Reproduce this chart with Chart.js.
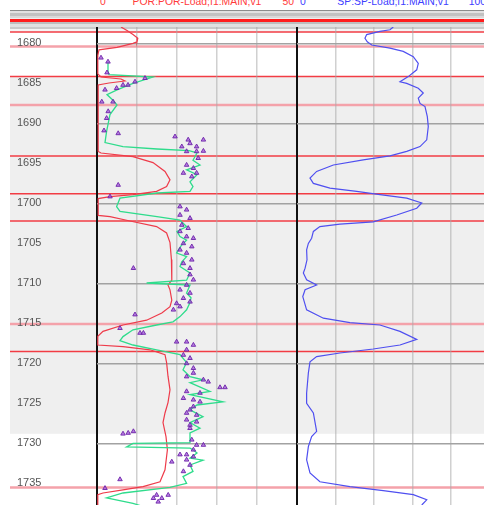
<!DOCTYPE html>
<html>
<head>
<meta charset="utf-8">
<title>POR / SP log</title>
<script src="https://cdn.jsdelivr.net/npm/chart.js@4.4.1/dist/chart.umd.min.js"></script>
<style>
  html, body { margin: 0; padding: 0; background: #fff; overflow: hidden; width: 484px; height: 505px; }
  canvas { display: block; position: absolute; }
  #band {
    position: absolute; left: 10px; top: 10px; width: 474px; height: 22px;
    background: linear-gradient(to bottom,
      #8c8c8c 0px, #8c8c8c 1px, #e2e2e2 1px, #e2e2e2 3px, #c2c2c2 3px, #c2c2c2 6px,
      #d9d9d9 6px, #d9d9d9 8px, #eeeeee 8px, #eeeeee 9px, #ff1c1c 9px, #ff1c1c 12px,
      #bdbdbd 12px, #bdbdbd 14px, #e0e0e0 14px, #e0e0e0 17px, #c9c9c9 17px, #c9c9c9 19px,
      #f4f4f4 19px, #f4f4f4 22px);
  }
  .hd { position: absolute; top: -4px; font: 10.4px "Liberation Sans", Arial, sans-serif; line-height: 12px; white-space: nowrap; }
</style>
</head>
<body>
<div id="band"></div>
<div id="head"></div>
<canvas id="depthTrack" width="474" height="480" style="left:10px;top:27px"></canvas>
<canvas id="porTrack" width="210" height="480" style="left:92px;top:27px"></canvas>
<canvas id="spTrack" width="203" height="480" style="left:292px;top:27px"></canvas>
<script>
// ---- depth frame ----
const depthRange = [1677.95, 1737.95];
const depthLabels = [1680, 1685, 1690, 1695, 1700, 1705, 1710, 1715, 1720, 1725, 1730, 1735];
const gridDepths = [1680, 1690, 1700, 1710, 1720, 1730];
const shadedZone = [1684.15, 1728.8];
const strongTops = [1678.56, 1684.15, 1694.06, 1698.8, 1702.2, 1718.5];
const faintTops = [1680.4, 1687.7, 1715.06, 1735.5];

// ---- track scales ----
const porRange = [0, 50];
const porTicks = [0, 10, 20, 30, 40, 50];
const spRange = [0, 100];
const spTicks = [0, 20, 40, 60, 80, 100];
const porName = 'POR:POR-Load;f1:MAIN;v1';
const spName = 'SP:SP-Load;f1:MAIN;v1';

// ---- POR curve (red) ----
const porDepth = [1677.95, 1678.4, 1678.9, 1679.35, 1679.8, 1680.0, 1680.5, 1680.8, 1681.5, 1683.8,
  1684.2, 1684.45, 1684.7, 1684.95, 1685.2, 1693.5, 1693.7, 1694.15, 1694.9, 1696.0, 1697.06, 1697.9,
  1698.5, 1698.9, 1699.15, 1699.4, 1701.5, 1701.65, 1702.2, 1702.9, 1703.7, 1704.9, 1707.0, 1709.6,
  1710.2, 1710.8, 1712.1, 1712.9, 1713.7, 1714.6, 1715.2, 1716.0, 1716.6, 1717.7, 1717.9, 1718.3,
  1718.9, 1719.9, 1721.6, 1723.3, 1724.9, 1726.2, 1727.4, 1729.15, 1730.8, 1733.3, 1734.8, 1735.4,
  1735.8, 1736.2, 1736.4, 1737.95];
const porValue = [6.0, 7.5, 9.0, 10.2, 10.0, 9.0, 5.0, 0.5, 0.2, 0.2,
  1.0, 6.0, 7.0, 3.0, 0.3, 0.3, 1.0, 9.0, 14.0, 17.0, 18.25, 17.4,
  14.9, 9.0, 3.25, 0.3, 0.3, 3.25, 8.25, 14.9, 17.4, 18.25, 18.6, 18.7,
  17.75, 18.25, 18.7, 18.25, 16.2, 12.4, 6.5, 1.5, 0.2, 0.2, 6.5, 13.25,
  17.0, 17.4, 17.75, 18.25, 17.75, 17.0, 16.5, 17.25, 17.6, 17.0, 15.75, 11.5,
  6.5, 1.5, 0.2, 0.2];

// ---- second porosity curve (green) ----
const phiDepth = [1682.3, 1683.5, 1683.9, 1684.2, 1685.0, 1685.8, 1686.4, 1687.1, 1687.7, 1688.9,
  1691.0, 1692.4, 1692.9, 1693.2, 1693.4, 1693.7, 1694.6, 1695.2, 1695.8, 1696.4, 1697.3, 1697.9,
  1698.5, 1698.7, 1699.35, 1700.4, 1701.0, 1701.65, 1702.1, 1702.9, 1703.5, 1704.15, 1704.6, 1705.3,
  1706.2, 1706.65, 1707.3, 1707.9, 1708.7, 1709.6, 1709.95, 1710.2, 1711.2, 1711.8, 1712.4, 1713.3,
  1714.15, 1714.8, 1715.2, 1715.8, 1716.65, 1717.15, 1717.7, 1718.3, 1718.9, 1719.9, 1720.8, 1721.65,
  1722.05, 1722.4, 1723.5, 1723.9, 1724.8, 1725.2, 1725.8, 1726.65, 1727.4, 1728.1, 1728.7, 1729.6,
  1729.9, 1730.0, 1730.45, 1730.6, 1730.8, 1731.2, 1731.85, 1732.1, 1732.7, 1733.5, 1734.15, 1735.0,
  1735.5, 1736.2, 1736.8, 1737.5, 1737.95];
const phiValue = [2.75, 2.75, 3.0, 14.0, 9.0, 5.0, 2.5, 4.0, 5.0, 3.25,
  2.4, 2.0, 6.5, 15.0, 23.0, 25.0, 24.0, 25.75, 22.4, 25.0, 23.25, 24.0,
  23.25, 15.0, 5.75, 4.9, 5.75, 15.0, 20.75, 22.4, 20.0, 20.75, 22.4, 21.0,
  19.9, 22.4, 21.2, 20.75, 23.25, 22.4, 12.4, 23.25, 22.4, 23.5, 23.25, 22.4,
  20.75, 19.0, 14.9, 9.0, 6.5, 5.75, 9.0, 14.9, 20.75, 22.4, 21.5, 23.25,
  26.5, 23.25, 28.25, 23.25, 31.5, 25.0, 23.25, 26.5, 23.25, 25.75, 23.25, 23.25,
  23.25, 9.0, 7.4, 23.25, 24.0, 25.0, 23.25, 26.5, 23.25, 24.0, 21.5, 22.4,
  18.25, 6.5, 2.4, 9.0, 12.0];

// ---- core porosity samples (triangles) ----
const coreDepth = [1681.8, 1682.3, 1683.65, 1684.35, 1684.8, 1685.2, 1685.2, 1685.6, 1685.8, 1687.3,
  1687.3, 1688.5, 1689.35, 1690.9, 1691.25, 1691.65, 1692.05, 1692.05, 1692.5, 1692.9, 1692.9, 1693.5,
  1693.5, 1693.45, 1694.35, 1695.2, 1695.6, 1696.2, 1696.2, 1696.65, 1697.7, 1699.15, 1700.4, 1700.8,
  1701.45, 1701.85, 1702.7, 1703.1, 1703.5, 1704.15, 1704.35, 1705.0, 1705.4, 1705.8, 1706.2, 1707.05,
  1707.5, 1708.1, 1708.1, 1708.9, 1709.55, 1710.2, 1710.8, 1711.2, 1711.85, 1712.3, 1712.5, 1712.9,
  1713.3, 1713.9, 1715.6, 1716.2, 1716.2, 1717.3, 1717.3, 1717.7, 1718.3, 1718.95, 1719.35, 1720.0,
  1720.6, 1721.2, 1721.65, 1722.05, 1722.3, 1723.0, 1723.0, 1723.5, 1723.7, 1724.35, 1724.55, 1724.8,
  1725.4, 1725.8, 1726.2, 1726.45, 1727.05, 1727.3, 1727.7, 1728.1, 1728.7, 1728.5, 1728.8, 1729.55,
  1730.2, 1730.2, 1730.8, 1731.4, 1731.4, 1731.65, 1732.05, 1732.7, 1732.3, 1733.5, 1734.5, 1735.6,
  1736.85, 1736.45, 1736.85, 1736.45, 1737.3];
const coreValue = [1.0, 2.75, 2.5, 12.0, 9.5, 7.75, 6.5, 4.9, 2.0, 1.2,
  4.0, 2.8, 2.4, 1.75, 5.3, 19.5, 22.8, 26.6, 23.25, 21.2, 24.9, 22.4,
  24.9, 26.6, 25.3, 22.4, 24.1, 21.6, 24.9, 23.7, 5.3, 3.25, 20.75, 22.4,
  20.75, 23.25, 21.2, 22.8, 20.75, 22.4, 24.1, 21.6, 23.7, 20.75, 22.4, 23.7,
  21.6, 23.25, 9.1, 23.25, 24.1, 22.4, 20.75, 23.25, 21.6, 23.25, 19.9, 20.75,
  19.1, 9.5, 5.75, 10.75, 11.6, 19.9, 22.4, 24.1, 22.4, 21.6, 23.25, 22.4,
  24.1, 24.1, 22.4, 26.6, 27.8, 30.75, 32.0, 22.4, 25.75, 21.6, 24.1, 25.75,
  24.1, 23.25, 22.4, 24.9, 22.4, 24.9, 23.25, 23.25, 7.8, 9.1, 6.5, 23.7,
  24.9, 26.6, 24.1, 20.75, 22.4, 24.1, 22.4, 23.25, 18.7, 21.6, 5.75, 2.0,
  14.1, 14.9, 16.2, 17.8, 15.3];

// ---- SP curve (blue) ----
const spDepth = [1677.95, 1678.3, 1678.5, 1678.9, 1679.35, 1679.8, 1680.2, 1680.6, 1681.0, 1681.65,
  1682.5, 1683.3, 1684.15, 1684.8, 1685.0, 1685.6, 1686.2, 1686.85, 1687.5, 1687.9, 1689.15, 1690.4,
  1692.05, 1692.9, 1693.5, 1694.05, 1694.55, 1695.2, 1696.0, 1696.85, 1697.5, 1698.1, 1698.5, 1698.9,
  1699.35, 1699.95, 1700.6, 1701.45, 1702.3, 1702.6, 1702.9, 1703.5, 1704.35, 1705.0, 1705.8, 1707.05,
  1708.1, 1708.7, 1709.55, 1710.2, 1710.8, 1711.65, 1713.3, 1714.35, 1714.9, 1715.2, 1716.0, 1717.0,
  1717.7, 1718.2, 1718.7, 1719.15, 1719.8, 1721.2, 1723.7, 1725.0, 1726.2, 1728.5, 1729.15, 1730.4,
  1732.05, 1733.7, 1734.8, 1735.4, 1735.9, 1736.4, 1737.05, 1737.7];
const spValue = [50, 48.3, 43.1, 36.2, 35.3, 36.5, 38.8, 48.3, 55.2, 60.4,
  63, 62.2, 57.8, 53.5, 57, 63, 65.6, 63, 63.9, 66.5, 67.7, 68.2,
  67.4, 63.9, 57, 48.3, 34.4, 18.9, 10.2, 6.75, 8.5, 17.1, 31, 43.1,
  57, 64.8, 62.2, 51.8, 39.6, 22.3, 11.9, 8.5, 7.6, 5.9, 5, 5.2,
  4.2, 3.3, 5, 10.2, 4.2, 3, 5, 13.7, 27.5, 43.1, 53.5, 62.2,
  53.5, 39.6, 22.3, 10.2, 6.75, 5.9, 5, 5, 8.5, 10.2, 7.6, 5.9,
  5, 6.75, 11.9, 27.5, 44.8, 60.4, 67.4, 64.8];

const pairs = (ys, xs) => ys.map((d, i) => ({ x: xs[i], y: d }));
const FONT = 'Liberation Sans, Arial, sans-serif';

// shaded interval and formation tops, drawn across the whole frame
const zonePlugin = {
  id: 'zones',
  beforeDraw(chart) {
    const { ctx, width } = chart;
    const y = chart.scales.y;
    ctx.save();
    const z0 = y.getPixelForValue(shadedZone[0]);
    const z1 = y.getPixelForValue(shadedZone[1]);
    ctx.fillStyle = '#efefef';
    ctx.fillRect(0, z0, width, z1 - z0);
    const line = (d, color, w) => {
      const p = y.getPixelForValue(d);
      ctx.strokeStyle = color; ctx.lineWidth = w;
      ctx.beginPath(); ctx.moveTo(0, p); ctx.lineTo(width, p); ctx.stroke();
    };
    faintTops.forEach(d => line(d, '#f4a2aa', 2.5));
    strongTops.forEach(d => line(d, '#f23c44', 1.5));
    ctx.restore();
  }
};

const baseOpts = {
  responsive: false, animation: false, events: [],
  plugins: { legend: { display: false }, tooltip: { enabled: false } }
};

// depth column + background frame; the axis keeps no room for itself
new Chart(document.getElementById('depthTrack'), {
  type: 'scatter',
  data: { datasets: [] },
  options: Object.assign({}, baseOpts, {
    layout: { padding: 0, autoPadding: false },
    scales: {
      x: { display: false, min: 0, max: 1 },
      y: {
        reverse: true, min: depthRange[0], max: depthRange[1], position: 'left',
        afterBuildTicks: s => { s.ticks = depthLabels.map(v => ({ value: v })); },
        afterFit: s => { s.paddingTop = 0; s.paddingBottom = 0; s.width = 0; },
        grid: { display: false, drawTicks: false }, border: { display: false },
        ticks: { mirror: true, padding: 7, color: '#555', font: { family: FONT, size: 11 }, callback: v => String(v) }
      }
    }
  }),
  plugins: [zonePlugin]
});

function trackScales(range, ticks) {
  const last = ticks[ticks.length - 1];
  const edge = c => c.tick && (c.tick.value === ticks[0] || c.tick.value === last);
  return {
    x: {
      type: 'linear', min: range[0], max: range[1], position: 'bottom',
      afterBuildTicks: s => { s.ticks = ticks.map(v => ({ value: v })); },
      ticks: { display: false }, border: { display: false },
      grid: { drawTicks: false, color: c => edge(c) ? '#111' : 'rgba(170,170,170,0.55)', lineWidth: c => edge(c) ? 2 : 1.5 }
    },
    y: {
      reverse: true, min: depthRange[0], max: depthRange[1], position: 'left',
      afterBuildTicks: s => { s.ticks = gridDepths.map(v => ({ value: v })); },
      ticks: { display: false }, border: { display: false },
      grid: { drawTicks: false, color: '#a2a2a2', lineWidth: 1.5 }
    }
  };
}

// POR track
new Chart(document.getElementById('porTrack'), {
  type: 'scatter',
  data: {
    datasets: [
      { label: 'core', data: pairs(coreDepth, coreValue), pointStyle: 'triangle', pointRadius: 2.6,
        backgroundColor: 'rgba(155,75,215,0.7)', borderColor: 'rgba(110,35,170,0.9)', borderWidth: 1, order: 0 },
      { label: 'phi', data: pairs(phiDepth, phiValue), showLine: true, borderColor: '#2fdc8c',
        borderWidth: 1.3, pointRadius: 0, order: 1 },
      { label: porName, data: pairs(porDepth, porValue), showLine: true, borderColor: '#ee3b4a',
        borderWidth: 1.2, pointRadius: 0, order: 2 }
    ]
  },
  options: Object.assign({}, baseOpts, {
    layout: { padding: { left: 5, right: 5, top: 0, bottom: 0 }, autoPadding: false },
    scales: trackScales(porRange, porTicks)
  })
});

// SP track
new Chart(document.getElementById('spTrack'), {
  type: 'scatter',
  data: {
    datasets: [
      { label: spName, data: pairs(spDepth, spValue), showLine: true, borderColor: '#4f4ff0',
        borderWidth: 1.2, pointRadius: 0 }
    ]
  },
  options: Object.assign({}, baseOpts, {
    layout: { padding: { left: 5, right: 5.5, top: 0, bottom: 0 }, autoPadding: false },
    scales: trackScales(spRange, spTicks)
  })
});

// header: curve names with scale ends above each track
const head = document.getElementById('head');
function headText(txt, color, x, align) {
  const el = document.createElement('div');
  el.className = 'hd';
  el.textContent = txt;
  el.style.color = color;
  head.appendChild(el);
  const w = el.getBoundingClientRect().width;
  el.style.left = (align === 'left' ? x : align === 'right' ? x - w : x - w / 2) + 'px';
}
headText(String(porRange[0]), '#ff3b3b', 100, 'left');
headText(porName, '#ff3b3b', 197, 'center');
headText(String(porRange[1]), '#ff3b3b', 294, 'right');
headText(String(spRange[0]), '#4040ff', 300, 'left');
headText(spName, '#4040ff', 393, 'center');
headText(String(spRange[1]), '#4040ff', 486, 'right');
</script>
</body>
</html>
